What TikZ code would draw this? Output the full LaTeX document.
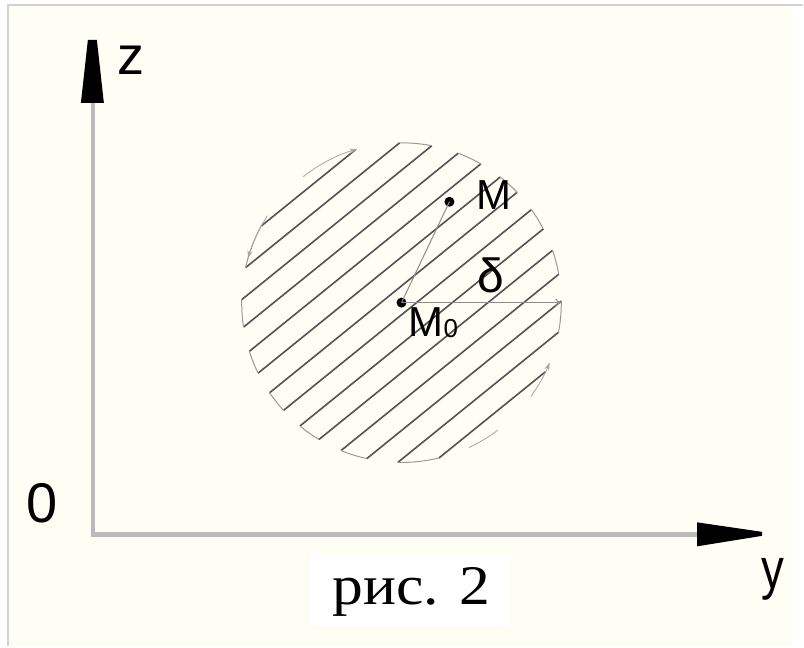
\documentclass[tikz,border=0pt]{standalone}
\usepackage{fontspec}
\setmainfont{Liberation Sans}
\newfontfamily\capserif{Liberation Serif}
\usetikzlibrary{calc,arrows.meta}
\newcommand\fsz[1]{\fontsize{#1}{#1}\selectfont}
\definecolor{cream}{HTML}{FFFEF4}
\definecolor{framegray}{HTML}{D2D2D2}
\begin{document}
\begin{tikzpicture}[x=1pt,y=-1pt]
\tikzset{
  axisline/.style={line width=4.5pt, draw=black!27},
  arrowhd/.style={fill=black},
  hatchline/.style={draw=black!68, line width=1.6pt},
  hatchlink/.style={draw=black!40, line width=1pt},
  faintarc/.style={draw=black!35, line width=0.8pt},
  radline/.style={draw=black!45, line width=1pt},
  lbl/.style={inner sep=0pt, anchor=base, text=black},
  dotpt/.style={circle, fill=black, inner sep=0pt, minimum size=10pt},
}
% background and frame
\fill[white] (0,0) rectangle (804,647);
\fill[cream] (8,5) rectangle (793,647);
\fill[white] (310,555) rectangle (510,627);
\draw[framegray, line width=2pt] (8,647) -- (8,5) -- (804,5);
\useasboundingbox (0,0) rectangle (804,647);

% axes
\coordinate (O) at (93,535);
\coordinate (Zb) at (93,103);
\coordinate (Yb) at (698,535);
\draw[axisline] (93,537.25) -- (Zb);
\draw[axisline] (O) -- (Yb);
\fill[arrowhd] (88,40) -- (97,40) -- (104,103) -- (81,103) -- cycle;
\fill[arrowhd] (698,523) -- (763,532.5) -- (763,536.5) -- (698,547) -- cycle;

% hatched disc
\coordinate (C) at (402,303);
\foreach \i in {0,...,13}{
  \pgfmathsetmacro{\a}{asin((148-22.5*\i)/160)}
  \draw[hatchline] ($(C)+(141+\a:160)$) -- ($(C)+(-39-\a:160)$);
}
\foreach \i in {0,...,12}{
  \pgfmathsetmacro{\a}{asin((148-22.5*\i)/160)}
  \pgfmathsetmacro{\b}{asin((148-22.5*(\i+1))/160)}
  \ifodd\i
    \draw[hatchlink] ($(C)+(-39-\a:160)$) arc[start angle=-39-\a, end angle=-39-\b, radius=160];
  \else
    \draw[hatchlink] ($(C)+(141+\a:160)$) arc[start angle=141+\a, end angle=141+\b, radius=160];
  \fi
}
\draw[faintarc,-{Stealth[length=8pt,width=5pt]}] ($(C)+(-128:160)$) arc[start angle=-128,end angle=-106,radius=160];
\draw[faintarc,-{Stealth[length=8pt,width=5pt]}] ($(C)+(-147:160)$) arc[start angle=-147,end angle=-164,radius=160];
\draw[faintarc,-{Stealth[length=8pt,width=5pt]}] ($(C)+(36:160)$) arc[start angle=36,end angle=22,radius=160];
\draw[faintarc] ($(C)+(65:160)$) arc[start angle=65,end angle=53,radius=160];

% points and radii
\node[dotpt] (M0) at (402,303) {};
\node[dotpt] (M) at (450,202) {};
\coordinate (E) at (562,303);
\draw[radline] (M0.center) -- (M.center);
\draw[radline,-{To[length=6pt,width=8pt]}] (M0.center) -- (E);

% labels
\node[lbl] (zl) at (131,75) {\fsz{54}z};
\node[lbl] (ol) at (42,523) {\fsz{56}0};
\node[lbl, xscale=0.8] (yl) at (774,589) {\fsz{57}y};
\node[lbl] (ml) at (495,210) {\fsz{42}M};
\node[lbl, anchor=base west] (m0l) at (409,337) {\fsz{42}M\raisebox{-1pt}{\fsz{26}0}};
\node[lbl] (dl) at (491,293) {\fsz{48}δ};
\node[lbl, xscale=1.1] (cap) at (412,605) {\capserif\fsz{56}рис. 2};
\end{tikzpicture}
\end{document}
